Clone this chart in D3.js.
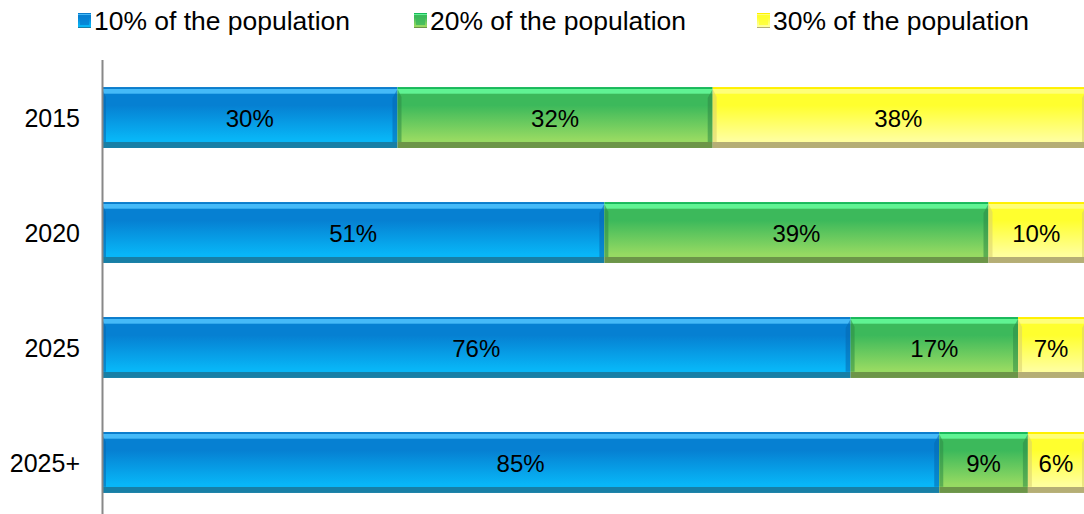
<!DOCTYPE html>
<html><head><meta charset="utf-8">
<script src="https://cdn.jsdelivr.net/npm/d3@7"></script>
<style>body{margin:0;background:#fff}svg{display:block;font-family:"Liberation Sans",Arial,sans-serif}</style>
</head><body><svg id="c" width="1084" height="514"></svg>
<script>
const categories = ["2015","2020","2025","2025+"];
const seriesNames = ["10% of the population","20% of the population","30% of the population"];
const s10 = [30,51,76,85];
const s20 = [32,39,17,9];
const s30 = [38,10,7,6];
const seriesValues = [s10,s20,s30];

const palettes = [
  {edge:"#0b7dcc", hi:"#45baf8", top:"#0680d2", bot:"#08b6f7", base:"#177fa6", side:"#0567b0"},
  {edge:"#19b95b", hi:"#60f393", top:"#3cb95b", bot:"#96da62", base:"#6c9548", side:"#2e8a45"},
  {edge:"#fff000", hi:"#ffff78", top:"#ffff2e", bot:"#ffff9c", base:"#b5ae75", side:"#d8d070"}
];

const svg = d3.select("#c");
const defs = svg.append("defs");
palettes.forEach((p,i)=>{
  const g = defs.append("linearGradient").attr("id","g"+i).attr("x1",0).attr("y1",0).attr("x2",0).attr("y2",1);
  [[0,p.edge],[0.035,p.edge],[0.04,p.hi],[0.1,p.hi],[0.12,p.top],[0.3,p.top],[0.86,p.bot],[0.9,p.bot],[0.905,p.base],[1,p.base]]
    .forEach(([o,c])=>g.append("stop").attr("offset",o).attr("stop-color",c));
});

const x = d3.scaleLinear().domain([0,100]).range([102,1087]);
const y = d3.scaleBand().domain(categories).range([33,547]).paddingInner(0.47).paddingOuter(0.47);

const stacked = categories.map((c,ci)=>{
  let acc=0;
  return seriesValues.map((s,si)=>{const v=s[ci]; const r={cat:c,si,v,x0:acc,x1:acc+v}; acc+=v; return r;});
}).flat();

const bh = y.bandwidth();
const segs = svg.append("g").selectAll("g").data(stacked).join("g");
segs.append("rect")
  .attr("x",d=>x(d.x0)).attr("y",d=>y(d.cat))
  .attr("width",d=>x(d.x1)-x(d.x0)).attr("height",bh)
  .attr("fill",d=>`url(#g${d.si})`);
segs.append("path").attr("fill",d=>palettes[d.si].side).attr("opacity",0.55)
  .attr("d",d=>{const x0=x(d.x0),y0=y(d.cat)+2,y1=y(d.cat)+bh*0.9,w=4;
    return `M${x0},${y0}L${x0+w},${y0+w+4}L${x0+w},${y1}L${x0},${y1}Z`;});
segs.append("path").attr("fill",d=>palettes[d.si].side).attr("opacity",0.55)
  .attr("d",d=>{const x1=x(d.x1),y0=y(d.cat)+2,y1=y(d.cat)+bh*0.9,w=5;
    return `M${x1},${y0}L${x1-w},${y0+w+4}L${x1-w},${y1}L${x1},${y1}Z`;});

svg.append("g").selectAll("text").data(stacked).join("text")
  .attr("x",d=>(x(d.x0)+Math.min(x(d.x1),1084))/2)
  .attr("y",d=>y(d.cat)+bh/2+1)
  .attr("text-anchor","middle").attr("dominant-baseline","central")
  .attr("font-size",24).attr("fill","#000")
  .text(d=>d.v+"%");

const ax = svg.append("g").attr("transform","translate(102,0)")
  .call(d3.axisLeft(y).tickSize(0).tickPadding(22));
ax.select(".domain").remove();
ax.selectAll("text").attr("font-size",25).attr("fill","#000").attr("font-family","Liberation Sans, Arial, sans-serif").attr("dy","0.38em");
svg.append("line").attr("x1",102.5).attr("x2",102.5).attr("y1",60).attr("y2",514).attr("stroke","#888").attr("stroke-width",2);

const legX = [78,414,757];
const leg = svg.append("g").selectAll("g").data(seriesNames).join("g")
  .attr("transform",(d,i)=>`translate(${legX[i]},0)`);
leg.append("rect").attr("x",0).attr("y",13).attr("width",13).attr("height",15).attr("fill",(d,i)=>`url(#g${i})`);
leg.append("rect").attr("x",2).attr("y",16).attr("width",9).attr("height",9).attr("fill",(d,i)=>palettes[i].top).attr("opacity",0.8);
leg.append("text").attr("x",16).attr("y",30).attr("font-size",25).attr("fill","#000")
  .attr("textLength",256).attr("lengthAdjust","spacingAndGlyphs").text(d=>d);
</script></body></html>
